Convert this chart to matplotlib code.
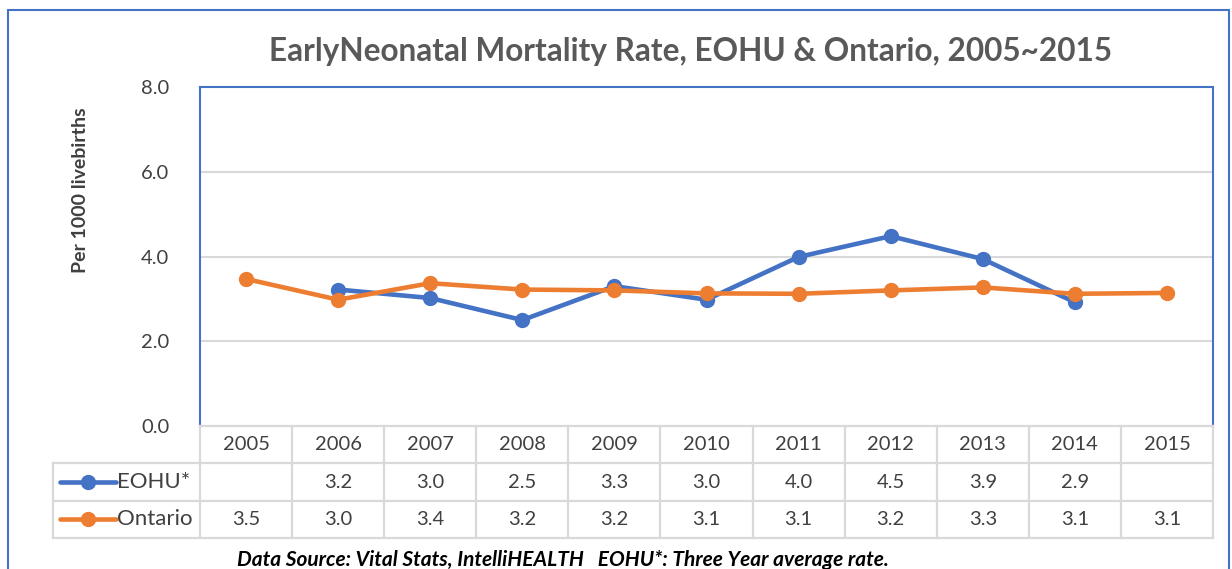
import matplotlib
matplotlib.use("Agg")
import matplotlib.pyplot as plt
from matplotlib.patches import Rectangle
import numpy as np

years = ["2005", "2006", "2007", "2008", "2009", "2010", "2011", "2012", "2013", "2014", "2015"]
eohu = [np.nan, 3.22, 3.02, 2.50, 3.30, 2.98, 3.99, 4.48, 3.94, 2.92, np.nan]
ontario = [3.47, 2.98, 3.37, 3.22, 3.20, 3.13, 3.12, 3.20, 3.27, 3.12, 3.14]
series_names = ["EOHU*", "Ontario"]
yticks = [0.0, 2.0, 4.0, 6.0, 8.0]

BLUE = "#4472C4"
ORANGE = "#ED7D31"
GRID = "#D9D9D9"
TXT = "#404040"
plt.rcParams['font.family'] = ['Lato', 'DejaVu Sans']

W, H = 1232, 569
fig = plt.figure(figsize=(W / 100, H / 100), dpi=100)

def fx(px):
    return px / W

def fy(py):
    return 1 - py / H

# outer border
fig.patches.append(Rectangle((fx(8), fy(575)), fx(1229) - fx(8), fy(10) - fy(575),
                             transform=fig.transFigure, fill=False, edgecolor=BLUE, lw=1.5))

L, R, T, B = 200, 1213, 87, 426
ax = fig.add_axes([fx(L), fy(B), fx(R) - fx(L), fy(T) - fy(B)])
x = np.arange(len(years))
ax.plot(x, eohu, color=BLUE, lw=3.3, marker='o', ms=10, solid_capstyle='round', zorder=3)
ax.plot(x, ontario, color=ORANGE, lw=3.3, marker='o', ms=10, solid_capstyle='round', zorder=4)
ax.set_xlim(-0.5, len(years) - 0.5)
ax.set_ylim(0, 8)
ax.set_yticks(yticks)
ax.set_yticklabels([f"{v:.1f}" for v in yticks], fontsize=14.5, color=TXT)
ax.set_xticks([])
ax.tick_params(axis='y', length=0, pad=22)
for v in yticks[1:-1]:
    ax.axhline(v, color=GRID, lw=1.5, zorder=1)
for s in ['left', 'top', 'right']:
    ax.spines[s].set_color(BLUE)
    ax.spines[s].set_linewidth(1.5)
ax.spines['bottom'].set_visible(False)

fig.text(fx(81), fy(190), "Per 1000 livebirths", rotation=90, ha='center', va='center',
         fontsize=14, fontweight='bold', color=TXT)

fig.text(fx(691), fy(52), "EarlyNeonatal Mortality Rate, EOHU & Ontario, 2005~2015",
         ha='center', va='center', fontsize=22.7, fontweight='bold', color="#595959")

# data table
TL, TB = 53, 538
tax = fig.add_axes([fx(TL), fy(TB), fx(R) - fx(TL), fy(B) - fy(TB)])
colw = (R - L) / len(years)
leftext = (L - TL) / colw
tax.set_xlim(-0.5 - leftext, len(years) - 0.5)
tax.set_ylim(3, 0)
tax.axis('off')
lw_t = 1.6
tax.plot([-0.5, len(years) - 0.5], [0, 0], color=GRID, lw=lw_t, clip_on=False)
for yy in [1, 2, 3]:
    tax.plot([-0.5 - leftext, len(years) - 0.5], [yy, yy], color=GRID, lw=lw_t, clip_on=False)
for i in range(len(years) + 1):
    tax.plot([i - 0.5, i - 0.5], [0, 3], color=GRID, lw=lw_t, clip_on=False)
tax.plot([-0.5 - leftext] * 2, [1, 3], color=GRID, lw=lw_t, clip_on=False)
for i, yr in enumerate(years):
    tax.text(i, 0.5, yr, ha='center', va='center', fontsize=14.5, color=TXT)
for r, (name, vals, col) in enumerate(zip(series_names, [eohu, ontario], [BLUE, ORANGE])):
    yy = 1.5 + r
    for i, v in enumerate(vals):
        if not np.isnan(v):
            tax.text(i, yy, f"{v:.1f}", ha='center', va='center', fontsize=14.5, color=TXT)
    x0 = -0.5 - leftext
    tax.plot([x0 + 0.08, x0 + 0.68], [yy, yy], color=col, lw=3.3, solid_capstyle='round', clip_on=False)
    tax.plot([x0 + 0.38], [yy], marker='o', ms=10, color=col, clip_on=False)
    tax.text(x0 + 0.70, yy, name, ha='left', va='center', fontsize=16, color=TXT)

fig.text(fx(237), fy(560), "Data Source: Vital Stats, IntelliHEALTH   EOHU*: Three Year average rate.",
         ha='left', va='center', fontsize=15, fontweight='bold', fontstyle='italic', color='black')

fig.savefig("out.png", dpi=100)
